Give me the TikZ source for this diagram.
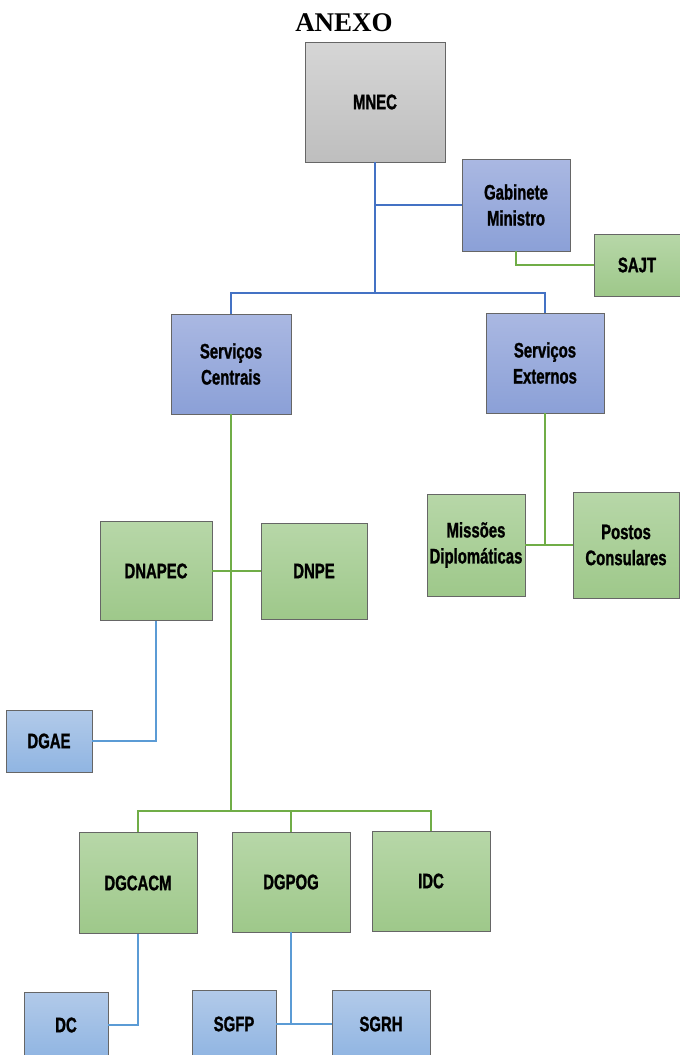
\documentclass[tikz,border=0pt]{standalone}
\usepackage{fontspec}
\newfontfamily\narrowfont[FakeStretch=0.71, FakeBold=1.2]{Liberation Sans Bold}
\newfontfamily\titlefont{Liberation Serif Bold}
\usetikzlibrary{positioning}
\definecolor{grtop}{RGB}{183,215,168}
\definecolor{grbot}{RGB}{158,200,138}
\definecolor{sbtop}{RGB}{170,184,226}
\definecolor{sbbot}{RGB}{139,160,215}
\definecolor{lbtop}{RGB}{178,202,233}
\definecolor{lbbot}{RGB}{144,181,226}
\definecolor{gytop}{RGB}{214,214,214}
\definecolor{gybot}{RGB}{190,190,190}
\definecolor{topline}{RGB}{68,114,196}
\definecolor{midline}{RGB}{112,173,71}
\definecolor{lowline}{RGB}{91,155,213}
\tikzset{
    unit/.style={draw=gray!80!black, line width=0.9pt, inner sep=0pt, align=center,
        font=\narrowfont\fontsize{21}{26}\selectfont},
    grey/.style={unit, top color=gytop, bottom color=gybot},
    purple/.style={unit, top color=sbtop, bottom color=sbbot},
    green/.style={unit, top color=grtop, bottom color=grbot},
    blue/.style={unit, top color=lbtop, bottom color=lbbot},
    dim/.style 2 args={minimum width=#1pt, minimum height=#2pt}
}
\begin{document}
\begin{tikzpicture}[x=1pt,y=-1pt]
        \useasboundingbox[fill=white] (0,0) rectangle (680,1055);
        \node (title) at (344,23) {\titlefont\fontsize{27}{30}\selectfont ANEXO};
        \node[grey, dim={140}{120}] (mnec) at (375,102) {MNEC};
        \node[purple, dim={108}{92}] (gab) at (516,205) {Gabinete\\Ministro};
        \node[green, dim={86}{62}] (sajt) at (637,265) {SAJT};
        \node[purple, dim={120}{100}] (sc) at (231,364) {Serviços\\Centrais};
        \node[purple, dim={118}{100}] (se) at (545,363) {Serviços\\Externos};
        \node[green, dim={112}{99}] (dnapec) at (156,571) {DNAPEC};
        \node[green, dim={106}{96}] (dnpe) at (314,571) {DNPE};
        \node[blue, dim={86}{62}] (dgae) at (49,741) {DGAE};
        \node[green, dim={98}{102}] (mis) at (476,545) {Missões\\Diplomáticas};
        \node[green, dim={106}{106}] (pos) at (626,545) {Postos\\Consulares};
        \node[green, dim={118}{101}] (dgcacm) at (138,883) {DGCACM};
        \node[green, dim={118}{100}] (dgpog) at (291,882) {DGPOG};
        \node[green, dim={118}{100}] (idc) at (431,881) {IDC};
        \node[blue, dim={84}{66}] (dc) at (66,1025) {DC};
        \node[blue, dim={84}{68}] (sgfp) at (234,1024) {SGFP};
        \node[blue, dim={98}{68}] (sgrh) at (381,1024) {SGRH};
        \coordinate (top) at (375,293);
        \coordinate (low) at (231,811);
        \begin{scope}[line width=1.7pt]
        \draw[topline] (mnec) -- (top) -| (sc);
        \draw[topline] (top) -| (se);
        \draw[topline] (mnec.south |- gab.west) -- (gab.west);
        \draw[midline] (gab) |- (sajt);
        \draw[midline] (sc) -- (low) -| (dgcacm);
        \draw[midline] (low) -| (dgpog);
        \draw[midline] (low) -| (idc);
        \draw[midline] (dnapec) -- (dnpe);
        \draw[midline] (se) -- (se.south |- mis.east);
        \draw[midline] (mis) -- (pos);
        \draw[lowline] (dnapec) |- (dgae);
        \draw[lowline] (dgcacm) |- (dc);
        \draw[lowline] (dgpog) -- (dgpog.south |- sgfp.east);
        \draw[lowline] (sgfp) -- (sgrh);
        \end{scope}
\end{tikzpicture}
\end{document}
